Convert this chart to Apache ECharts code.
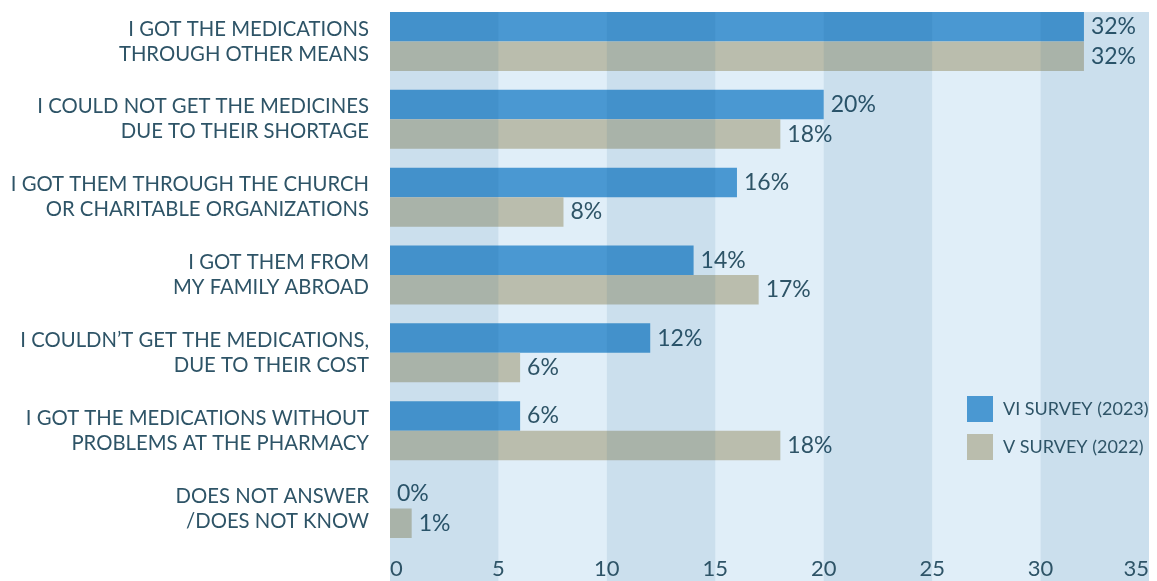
<!DOCTYPE html>
<html>
<head>
<meta charset="utf-8">
<script src="https://cdn.jsdelivr.net/npm/echarts@6/dist/echarts.min.js"></script>
<style>
  html, body { margin: 0; padding: 0; background: #fff; }
  #chart { width: 1157px; height: 581px; }
</style>
</head>
<body>
<div id="chart"></div>
<script>
// categories, top to bottom
var categories = [
    'I GOT THE MEDICATIONS\nTHROUGH OTHER MEANS',
    'I COULD NOT GET THE MEDICINES\nDUE TO THEIR SHORTAGE',
    'I GOT THEM THROUGH THE CHURCH\nOR CHARITABLE ORGANIZATIONS',
    'I GOT THEM FROM\nMY FAMILY ABROAD',
    'I COULDN\u2019T GET THE MEDICATIONS,\nDUE TO THEIR COST',
    'I GOT THE MEDICATIONS WITHOUT\nPROBLEMS AT THE PHARMACY',
    'DOES NOT ANSWER\n/DOES NOT KNOW'
];
var seriesNames = ['VI SURVEY (2023)', 'V SURVEY (2022)'];
var survey2023 = [32, 20, 16, 14, 12, 6, 0];
var survey2022 = [32, 18, 8, 17, 6, 18, 1];
var xTicks = { min: 0, max: 35, interval: 5 };

var textColor = '#2e5467';
var font = 'Lato, "Open Sans", sans-serif';

var myChart = echarts.init(document.getElementById('chart'));

var barLabel = {
    show: true,
    position: 'right',
    distance: 7,
    formatter: '{c}%',
    color: textColor,
    fontSize: 23,
    fontFamily: font
};

var option = {
    animation: false,
    textStyle: { fontFamily: font },
    legend: {
        orient: 'vertical',
        left: 962,
        top: 391,
        itemWidth: 26,
        itemHeight: 26,
        itemGap: 12,
        icon: 'rect',
        textStyle: { color: textColor, fontSize: 18, fontFamily: font, padding: [0, 0, 0, 5] },
        data: seriesNames
    },
    grid: [
        // background bands + axis labels
        { left: 390, right: 8, top: 12, bottom: 0, show: true, backgroundColor: '#e0eef8', borderWidth: 0 },
        // bars
        { left: 390, right: 8, top: 2.6, bottom: 33.6 }
    ],
    xAxis: [
        {
            gridIndex: 0,
            type: 'value',
            min: xTicks.min,
            max: xTicks.max,
            interval: xTicks.interval,
            z: 3,
            axisLine: { show: false },
            axisTick: { show: false },
            splitLine: { show: false },
            splitArea: {
                show: true,
                areaStyle: { color: ['rgba(0,80,130,0.09)', 'rgba(0,0,0,0)'] }
            },
            axisLabel: {
                inside: true,
                margin: 1,
                color: textColor,
                fontSize: 22,
                fontFamily: font,
                alignMinLabel: 'left',
                alignMaxLabel: 'right'
            }
        },
        {
            gridIndex: 1,
            type: 'value',
            min: xTicks.min,
            max: xTicks.max,
            show: false,
            splitLine: { show: false }
        }
    ],
    yAxis: [
        {
            gridIndex: 0,
            type: 'value',
            show: false,
            splitLine: { show: false }
        },
        {
            gridIndex: 1,
            type: 'category',
            inverse: true,
            data: categories,
            axisLine: { show: false },
            axisTick: { show: false },
            axisLabel: {
                margin: 21,
                color: textColor,
                fontSize: 20.3,
                lineHeight: 25,
                fontFamily: font
            }
        }
    ],
    series: [
        {
            name: seriesNames[0],
            type: 'bar',
            xAxisIndex: 1,
            yAxisIndex: 1,
            data: survey2023,
            barWidth: 29.5,
            barGap: '0%',
            itemStyle: { color: '#4a98d2' },
            label: barLabel
        },
        {
            name: seriesNames[1],
            type: 'bar',
            xAxisIndex: 1,
            yAxisIndex: 1,
            data: survey2022,
            barWidth: 29.5,
            barGap: '0%',
            itemStyle: { color: '#babdad' },
            label: barLabel
        }
    ]
};

myChart.setOption(option);
</script>
</body>
</html>
